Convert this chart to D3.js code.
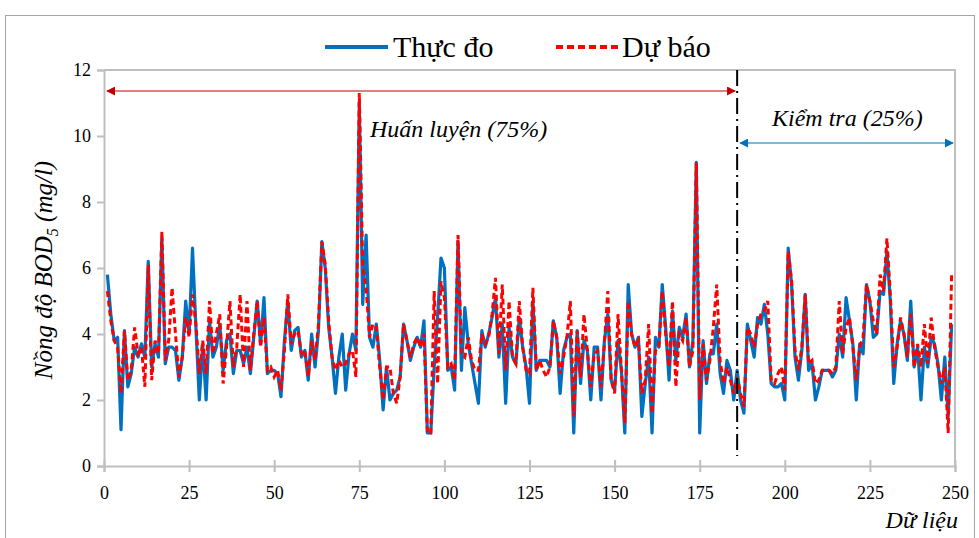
<!DOCTYPE html>
<html>
<head>
<meta charset="utf-8">
<script src="https://cdn.jsdelivr.net/npm/d3@7"></script>
<style>
  body { margin: 0; background: #fff; }
</style>
</head>
<body>
<div id="chart"></div>
<script>
// measured BOD5 (Thực đo), samples 1..249
var actual = [
  5.8, 4.6, 3.8, 3.9, 1.1, 4.1, 2.4, 2.8, 3.6, 3.3,
  3.7, 3.3, 6.2, 3.0, 3.7, 3.3, 6.9, 3.1, 3.6, 3.6,
  3.5, 2.6, 3.3, 5.0, 4.0, 6.6, 4.2, 2.0, 3.7, 2.0,
  4.4, 3.3, 3.6, 4.3, 2.9, 3.8, 4.0, 2.8, 3.5, 3.5,
  3.1, 3.6, 2.8, 3.9, 5.0, 3.7, 5.1, 2.8, 2.9, 2.9,
  2.8, 2.1, 3.8, 5.0, 3.5, 4.1, 4.2, 3.3, 3.5, 2.6,
  4.0, 3.0, 4.1, 6.8, 6.0, 4.2, 3.3, 2.2, 3.3, 4.0,
  2.3, 3.4, 4.0, 3.5, 11.0, 4.9, 7.0, 3.9, 3.6, 4.3,
  3.2, 1.7, 3.0, 2.0, 2.2, 2.3, 2.7, 4.3, 3.8, 3.2,
  3.6, 3.9, 3.6, 4.4, 1.0, 1.0, 3.0, 4.5, 6.3, 6.0,
  2.9, 3.0, 2.3, 6.8, 2.9, 4.8, 3.7, 3.1, 2.5, 1.9,
  4.1, 3.6, 4.0, 4.5, 5.1, 3.3, 4.3, 1.9, 4.2, 3.3,
  3.1, 4.5, 3.6, 3.0, 1.9, 5.0, 2.9, 3.2, 3.2, 3.2,
  3.0, 4.4, 3.9, 2.2, 3.5, 3.9, 4.0, 1.0, 4.1, 2.5,
  3.8, 3.5, 2.0, 3.6, 3.6, 2.0, 3.8, 4.6, 2.6, 2.3,
  3.8, 2.9, 1.0, 5.5, 4.0, 3.6, 3.9, 1.5, 2.5, 3.3,
  1.0, 3.9, 3.6, 5.5, 4.2, 2.6, 4.7, 3.2, 4.2, 3.9,
  4.6, 3.0, 3.8, 9.2, 1.0, 3.8, 2.5, 3.4, 3.4, 4.3,
  2.8, 2.2, 3.2, 2.9, 2.0, 2.9, 2.0, 1.6, 4.3, 3.8,
  3.3, 4.5, 4.3, 4.9, 4.0, 2.5, 2.4, 2.4, 2.5, 2.0,
  6.6, 5.5, 3.3, 2.6, 3.5, 5.2, 2.9, 3.1, 2.0, 2.4,
  2.9, 2.9, 2.9, 2.7, 2.9, 4.0, 3.3, 5.1, 4.4, 3.7,
  2.0, 3.7, 3.4, 5.5, 5.0, 3.9, 4.0, 5.3, 5.2, 6.5,
  5.0, 2.5, 3.7, 4.4, 4.0, 3.2, 5.0, 3.0, 3.6, 2.0,
  3.6, 3.0, 3.9, 3.7, 3.1, 2.0, 3.3, 1.5, 4.3
];
// model output (Dự báo), samples 1..249
var forecast = [
  5.3, 4.4, 3.8, 3.6, 2.2, 4.1, 2.6, 2.9, 4.2, 3.4,
  3.6, 2.4, 6.1, 2.6, 3.8, 3.4, 7.1, 3.2, 3.8, 5.4,
  4.0, 2.7, 3.3, 4.5, 3.9, 5.2, 4.3, 2.8, 3.8, 2.8,
  5.0, 3.4, 4.0, 4.6, 2.5, 3.6, 5.0, 3.0, 3.6, 5.2,
  3.0, 5.0, 2.9, 4.0, 5.0, 3.6, 4.5, 2.9, 3.0, 2.7,
  2.9, 2.3, 3.5, 5.2, 3.7, 4.0, 4.1, 3.4, 3.5, 2.7,
  3.8, 3.2, 4.3, 6.8, 6.1, 4.4, 3.3, 2.9, 3.2, 3.0,
  3.1, 3.4, 3.5, 2.7, 11.3, 6.0, 5.4, 3.9, 4.3, 4.2,
  3.0, 2.0, 3.0, 3.0, 2.2, 1.9, 2.7, 4.3, 3.8, 3.3,
  3.7, 3.9, 3.6, 4.0, 1.0, 1.0, 5.3, 2.5, 5.6, 5.1,
  3.0, 3.1, 2.6, 7.0, 3.4, 3.3, 3.9, 3.2, 2.9, 2.9,
  4.0, 3.7, 3.9, 4.6, 5.7, 3.4, 5.5, 2.9, 5.0, 3.3,
  3.1, 5.0, 3.6, 2.9, 2.8, 5.4, 2.9, 3.2, 2.9, 2.7,
  3.0, 4.4, 3.9, 2.8, 3.3, 3.9, 5.0, 1.5, 4.1, 2.7,
  4.6, 3.5, 2.4, 3.4, 3.5, 2.4, 3.7, 5.3, 2.6, 2.2,
  4.6, 2.9, 1.3, 5.0, 4.0, 3.6, 3.8, 2.2, 2.6, 4.3,
  1.6, 3.5, 3.6, 5.3, 4.0, 3.0, 5.0, 2.4, 4.0, 3.8,
  4.5, 3.0, 3.5, 9.2, 2.0, 3.7, 2.6, 3.2, 4.2, 5.5,
  3.2, 2.5, 3.0, 2.6, 2.2, 2.7, 2.2, 1.8, 4.2, 4.0,
  3.6, 4.3, 4.6, 4.7, 5.0, 2.6, 2.5, 2.8, 3.0, 2.3,
  6.5, 5.6, 3.5, 2.9, 3.6, 5.2, 3.1, 3.2, 2.5, 2.6,
  2.9, 2.9, 2.9, 2.8, 3.0, 5.0, 3.4, 4.2, 4.5, 3.6,
  2.6, 3.6, 3.9, 5.5, 5.0, 4.4, 4.0, 5.8, 5.3, 6.9,
  5.2, 3.0, 3.6, 4.5, 4.0, 3.3, 4.6, 3.0, 3.7, 3.0,
  4.3, 3.1, 4.5, 3.6, 3.0, 2.5, 3.0, 1.0, 5.8
];
var xTicks = [0, 25, 50, 75, 100, 125, 150, 175, 200, 225, 250];
var yTicks = [0, 2, 4, 6, 8, 10, 12];
var splitAt = 186;   // train / test boundary
var seriesNames = ["Thực đo", "Dự báo"];

var W = 979, H = 538;
var blue = "#0070c0", red = "#ff0000", axisGray = "#bfbfbf";
// Times-like look of the original
var serif = "Liberation Serif, Times New Roman, Tinos, Noto Serif, DejaVu Serif, Georgia, serif";

var svg = d3.select("#chart").append("svg")
  .attr("width", W).attr("height", H)
  .style("font-family", serif);

var defs = svg.append("defs");
function arrowHead(id, color) {
  defs.append("marker")
    .attr("id", id).attr("viewBox", "0 0 10 10")
    .attr("refX", 9).attr("refY", 5)
    .attr("markerWidth", 9).attr("markerHeight", 9)
    .attr("markerUnits", "userSpaceOnUse")
    .attr("orient", "auto-start-reverse")
    .append("path").attr("d", "M0,0 L10,5 L0,10 z").attr("fill", color);
}
arrowHead("arrRed", "#c00000");
arrowHead("arrBlue", blue);

// outer chart frame
svg.append("rect")
  .attr("x", 5.5).attr("y", 15.5).attr("width", 969).attr("height", 540)
  .attr("fill", "none").attr("stroke", "#a6a6a6").attr("stroke-width", 1);

var x = d3.scaleLinear().domain([0, 250]).range([104, 955]);
var y = d3.scaleLinear().domain([0, 12]).range([466, 70]);

// plot frame (top + right)
svg.append("path")
  .attr("d", "M" + x(0) + "," + y(12) + "H" + x(250) + "V" + y(0))
  .attr("fill", "none").attr("stroke", axisGray).attr("stroke-width", 2);

// axes
var yAxis = svg.append("g")
  .attr("transform", "translate(" + x(0) + ",0)")
  .call(d3.axisLeft(y).tickValues(yTicks).tickSize(7).tickPadding(6).tickFormat(d3.format("d")));
var xAxis = svg.append("g")
  .attr("transform", "translate(0," + y(0) + ")")
  .call(d3.axisBottom(x).tickValues(xTicks).tickSize(6).tickPadding(14).tickFormat(d3.format("d")));
xAxis.selectAll(".tick line").attr("y1", -6);
[xAxis, yAxis].forEach(function(a) {
  a.attr("font-family", null).attr("font-size", 18);
  a.select(".domain").attr("stroke", axisGray).attr("stroke-width", 2);
  a.selectAll(".tick line").attr("stroke", axisGray).attr("stroke-width", 2);
  a.selectAll(".tick text").attr("fill", "#000").style("font-family", serif);
});

// series
var line = d3.line()
  .x(function(d, i) { return x(i + 1); })
  .y(function(d) { return y(d); });

svg.append("path").datum(actual)
  .attr("d", line).attr("fill", "none")
  .attr("stroke", blue).attr("stroke-width", 3.2).attr("stroke-linejoin", "round");
svg.append("path").datum(forecast)
  .attr("d", line).attr("fill", "none")
  .attr("stroke", red).attr("stroke-width", 3).attr("stroke-dasharray", "6,3.5");

// train/test split line
svg.append("line")
  .attr("x1", x(splitAt)).attr("x2", x(splitAt))
  .attr("y1", y(12)).attr("y2", 456)
  .attr("stroke", "#000").attr("stroke-width", 2).attr("stroke-dasharray", "16,5,2,5");

// range arrows
svg.append("line")
  .attr("x1", x(0) + 3).attr("x2", x(splitAt) - 2)
  .attr("y1", 91).attr("y2", 91)
  .attr("stroke", "#c00000").attr("stroke-width", 1.2)
  .attr("marker-start", "url(#arrRed)").attr("marker-end", "url(#arrRed)");
svg.append("line")
  .attr("x1", x(splitAt) + 3).attr("x2", x(250) - 2)
  .attr("y1", 143).attr("y2", 143)
  .attr("stroke", blue).attr("stroke-width", 1.2)
  .attr("marker-start", "url(#arrBlue)").attr("marker-end", "url(#arrBlue)");

svg.append("text").attr("x", 370).attr("y", 137)
  .style("font-size", "24px").style("font-style", "italic")
  .text("Huấn luyện (75%)");
svg.append("text").attr("x", 772).attr("y", 126)
  .style("font-size", "24px").style("font-style", "italic")
  .text("Kiểm tra (25%)");

// axis titles
var yt = svg.append("text")
  .attr("transform", "translate(52,270) rotate(-90)")
  .attr("text-anchor", "middle")
  .style("font-size", "25px").style("font-style", "italic");
yt.append("tspan").text("Nồng độ BOD");
yt.append("tspan").attr("dy", 6).style("font-size", "16px").text("5");
yt.append("tspan").attr("dy", -6).text(" (mg/l)");

svg.append("text").attr("x", 958).attr("y", 528)
  .attr("text-anchor", "end")
  .style("font-size", "24px").style("font-style", "italic")
  .text("Dữ liệu");

// legend
var legend = svg.append("g");
legend.append("line").attr("x1", 325).attr("x2", 388).attr("y1", 47).attr("y2", 47)
  .attr("stroke", blue).attr("stroke-width", 4);
legend.append("text").attr("x", 393).attr("y", 57)
  .style("font-size", "30px").text(seriesNames[0]);
legend.append("line").attr("x1", 556).attr("x2", 618).attr("y1", 47).attr("y2", 47)
  .attr("stroke", red).attr("stroke-width", 4).attr("stroke-dasharray", "7,4");
legend.append("text").attr("x", 622).attr("y", 57)
  .style("font-size", "30px").text(seriesNames[1]);
</script>
</body>
</html>
